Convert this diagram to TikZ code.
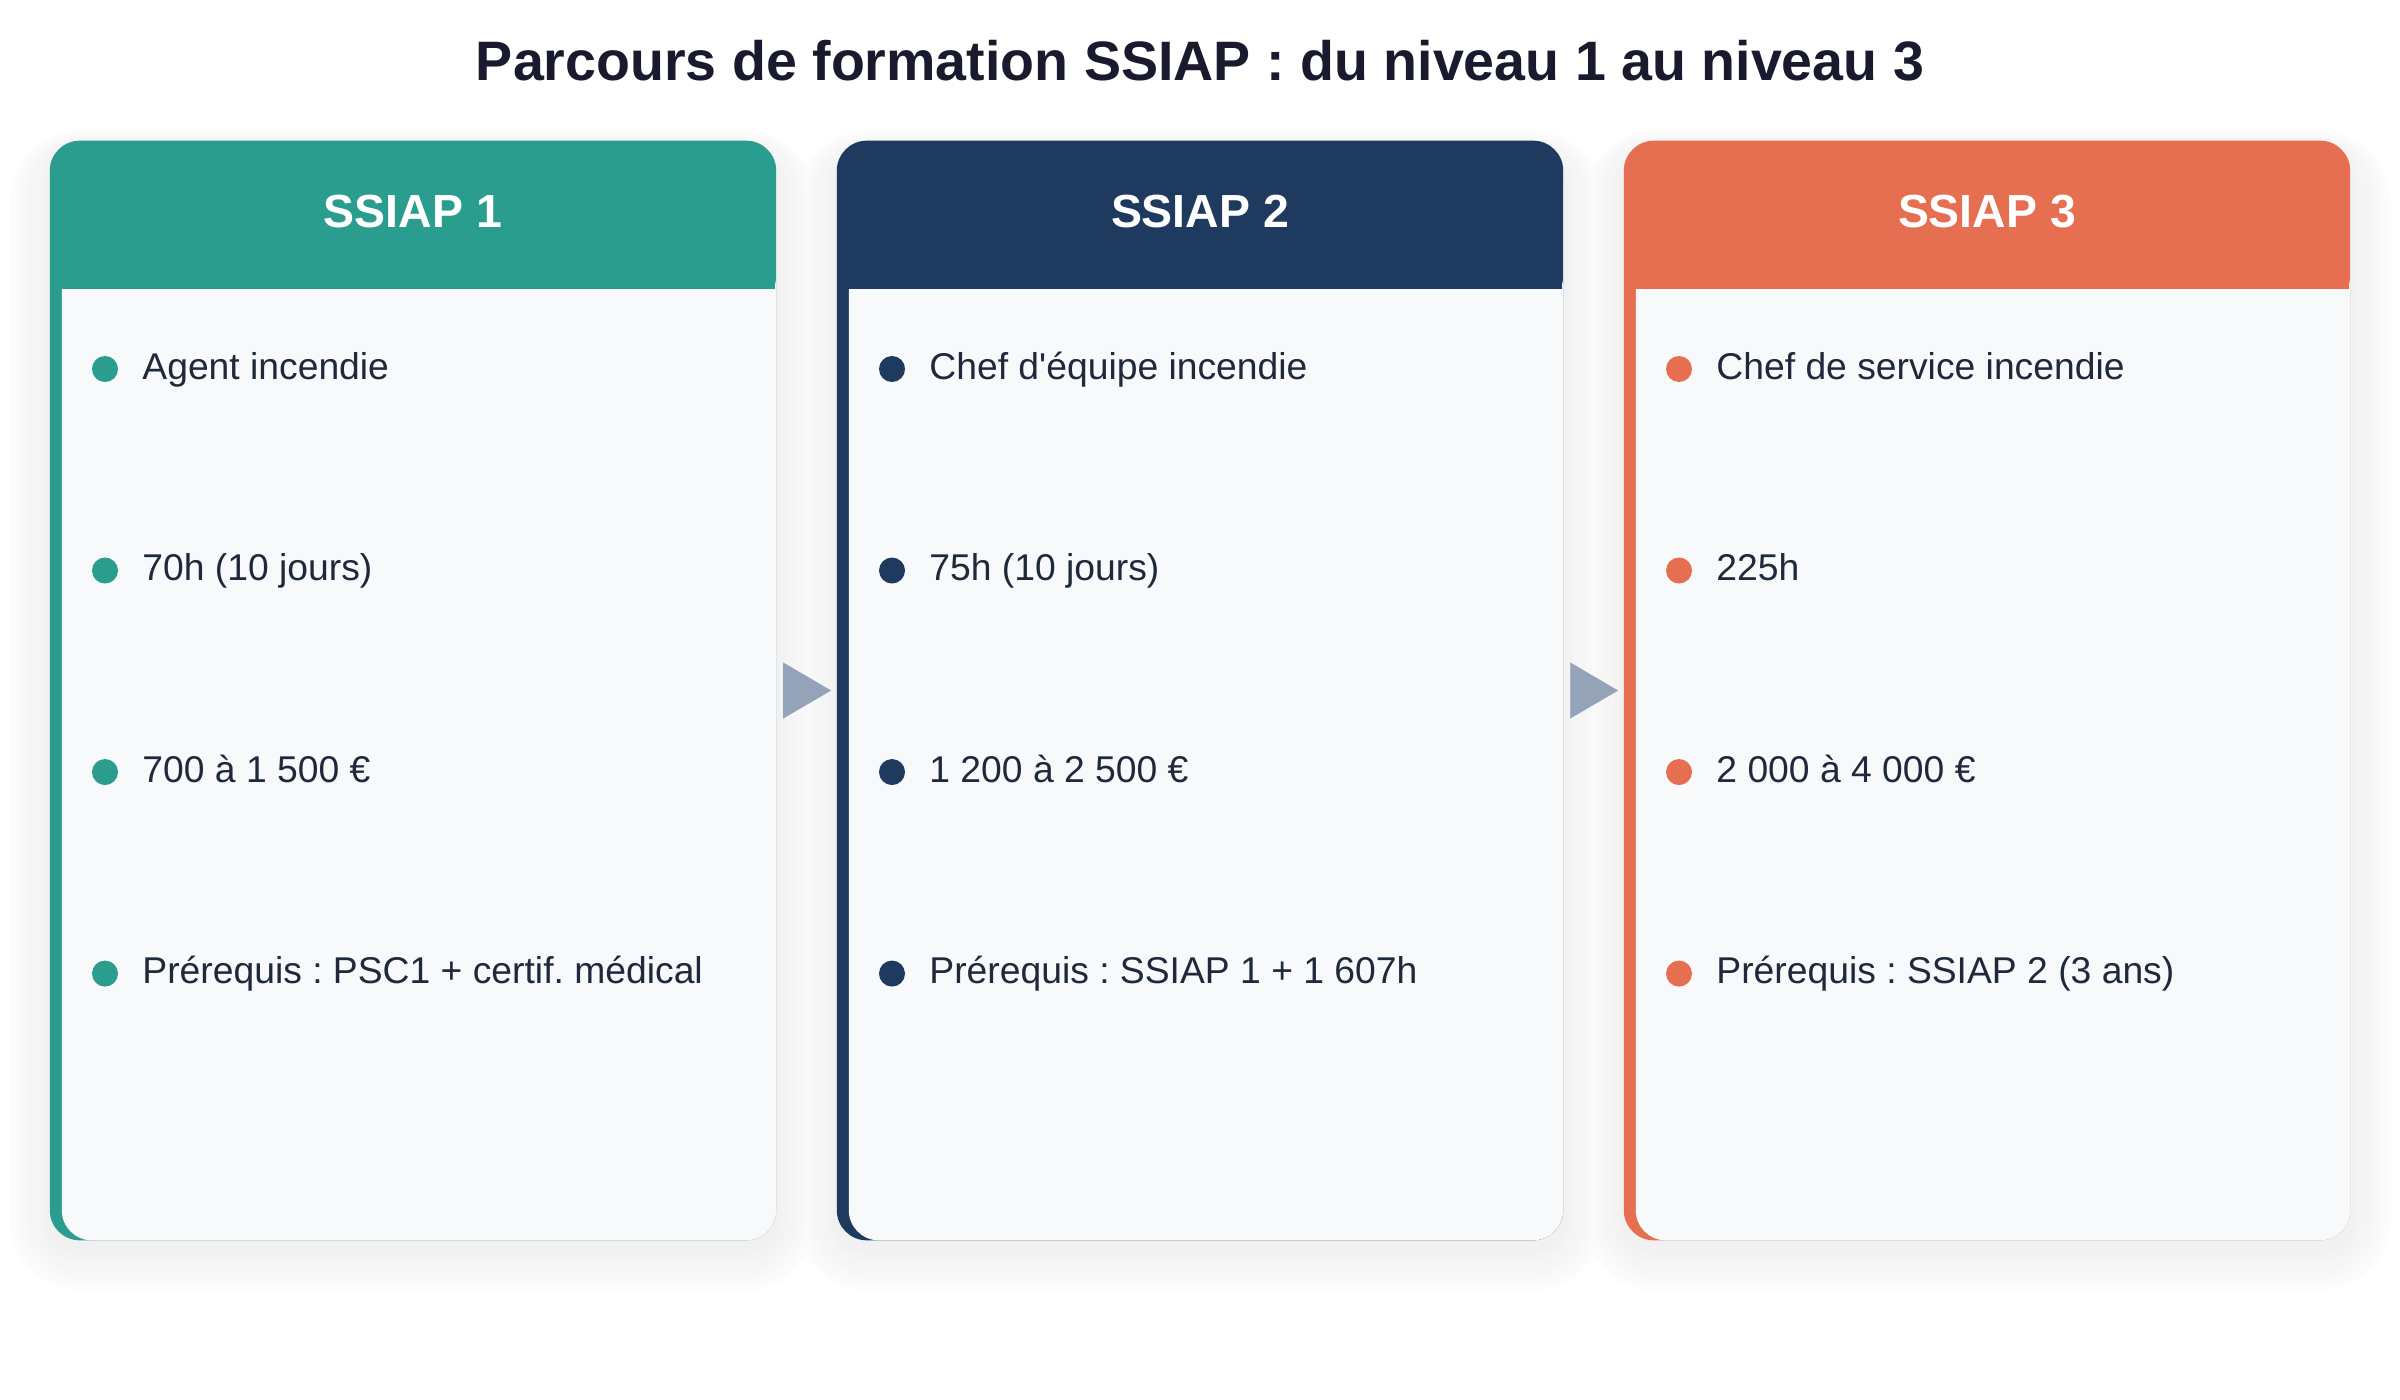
\documentclass[tikz,border=0pt]{standalone}
\usepackage{fontspec}
\setmainfont{Liberation Sans}[Ligatures=TeXOff]
\usepackage{tikz}
\usetikzlibrary{arrows.meta, positioning}
\frenchspacing
\definecolor{ssiapone}{HTML}{2A9D8F}
\definecolor{ssiaptwo}{HTML}{1E3A5F}
\definecolor{ssiapthree}{HTML}{E76F51}
\definecolor{cardbg}{HTML}{F8F9FB}
\definecolor{inkdark}{HTML}{1A1A2E}
\definecolor{inktext}{HTML}{1E293B}
\definecolor{arrowgrey}{HTML}{94A3B8}
\tikzstyle{cardbox} = [rectangle, rounded corners=0.3cm, minimum width=7.26cm, minimum height=10.99cm,
                       inner sep=0pt]
\tikzstyle{bodybox} = [rectangle, rounded corners=0.3cm, minimum width=7.14cm, minimum height=9.81cm,
                       inner sep=0pt, fill=cardbg]
\tikzstyle{headtext} = [font=\fontsize{13.2}{16}\selectfont\bfseries, text=white]
\tikzstyle{dot} = [circle, minimum size=0.26cm, inner sep=0pt]
\tikzstyle{itemtext} = [font=\fontsize{10.6}{13}\selectfont, text=inktext, inner sep=0pt,
                        text height=0.28cm, text depth=0.08cm]
\tikzstyle{flow} = [-{Triangle[length=0.48cm, width=0.56cm]}, draw=arrowgrey, fill=arrowgrey,
                    line width=0.1pt, shorten <=0.08cm, shorten >=0.05cm]

\begin{document}
\begin{tikzpicture}[x=0.01cm, y=-0.01cm]
    \fill[white] (0,0) rectangle (2400,1400);

    % Title
    \node[font=\fontsize{15.8}{19}\selectfont\bfseries, text=inkdark] (title) at (1200,61)
        {Parcours de formation SSIAP : du niveau 1 au niveau 3};

    % Soft shadows under the cards, outer (light) to inner (dark)
    \foreach \s [evaluate=\s as \r using 0.3+\s*0.01, evaluate=\s as \p using 6-\s*0.12]
        in {40,34,28,22,16,10,4}
      \foreach \cx in {413,1200,1987}
        \fill[black!\p, rounded corners=\r cm]
            (\cx-363-\s, 151-0.5*\s) rectangle (\cx+363+\s, 1250+\s);

    % Card 1: SSIAP 1
    \node[cardbox, fill=ssiapone] (card1) at (413,690.5) {};
    \node[bodybox, anchor=south east] (body1) at (card1.south east) {};
    \fill[ssiapone] (body1.north west) rectangle ++(714,31);
    \node[headtext] (head1) at (413,212) {SSIAP 1};
    \node[dot, fill=ssiapone] (d11) at (105,369) {};
    \node[dot, fill=ssiapone, below=1.74cm of d11] (d12) {};
    \node[dot, fill=ssiapone, below=1.74cm of d12] (d13) {};
    \node[dot, fill=ssiapone, below=1.74cm of d13] (d14) {};
    \node[itemtext, right=0.23cm of d11] (t11) {Agent incendie};
    \node[itemtext, right=0.23cm of d12] (t12) {70h (10 jours)};
    \node[itemtext, right=0.23cm of d13] (t13) {700 à 1 500 €};
    \node[itemtext, right=0.23cm of d14] (t14) {Prérequis : PSC1 + certif. médical};

    % Card 2: SSIAP 2
    \node[cardbox, fill=ssiaptwo] (card2) at (1200,690.5) {};
    \node[bodybox, anchor=south east] (body2) at (card2.south east) {};
    \fill[ssiaptwo] (body2.north west) rectangle ++(714,31);
    \node[headtext] (head2) at (1200,212) {SSIAP 2};
    \node[dot, fill=ssiaptwo] (d21) at (892,369) {};
    \node[dot, fill=ssiaptwo, below=1.74cm of d21] (d22) {};
    \node[dot, fill=ssiaptwo, below=1.74cm of d22] (d23) {};
    \node[dot, fill=ssiaptwo, below=1.74cm of d23] (d24) {};
    \node[itemtext, right=0.23cm of d21] (t21) {Chef d'équipe incendie};
    \node[itemtext, right=0.23cm of d22] (t22) {75h (10 jours)};
    \node[itemtext, right=0.23cm of d23] (t23) {1 200 à 2 500 €};
    \node[itemtext, right=0.23cm of d24] (t24) {Prérequis : SSIAP 1 + 1 607h};

    % Card 3: SSIAP 3
    \node[cardbox, fill=ssiapthree] (card3) at (1987,690.5) {};
    \node[bodybox, anchor=south east] (body3) at (card3.south east) {};
    \fill[ssiapthree] (body3.north west) rectangle ++(714,31);
    \node[headtext] (head3) at (1987,212) {SSIAP 3};
    \node[dot, fill=ssiapthree] (d31) at (1679,369) {};
    \node[dot, fill=ssiapthree, below=1.74cm of d31] (d32) {};
    \node[dot, fill=ssiapthree, below=1.74cm of d32] (d33) {};
    \node[dot, fill=ssiapthree, below=1.74cm of d33] (d34) {};
    \node[itemtext, right=0.23cm of d31] (t31) {Chef de service incendie};
    \node[itemtext, right=0.23cm of d32] (t32) {225h};
    \node[itemtext, right=0.23cm of d33] (t33) {2 000 à 4 000 €};
    \node[itemtext, right=0.23cm of d34] (t34) {Prérequis : SSIAP 2 (3 ans)};

    % Progression arrows
    \draw[flow] (card1) -- (card2);
    \draw[flow] (card2) -- (card3);
\end{tikzpicture}
\end{document}
